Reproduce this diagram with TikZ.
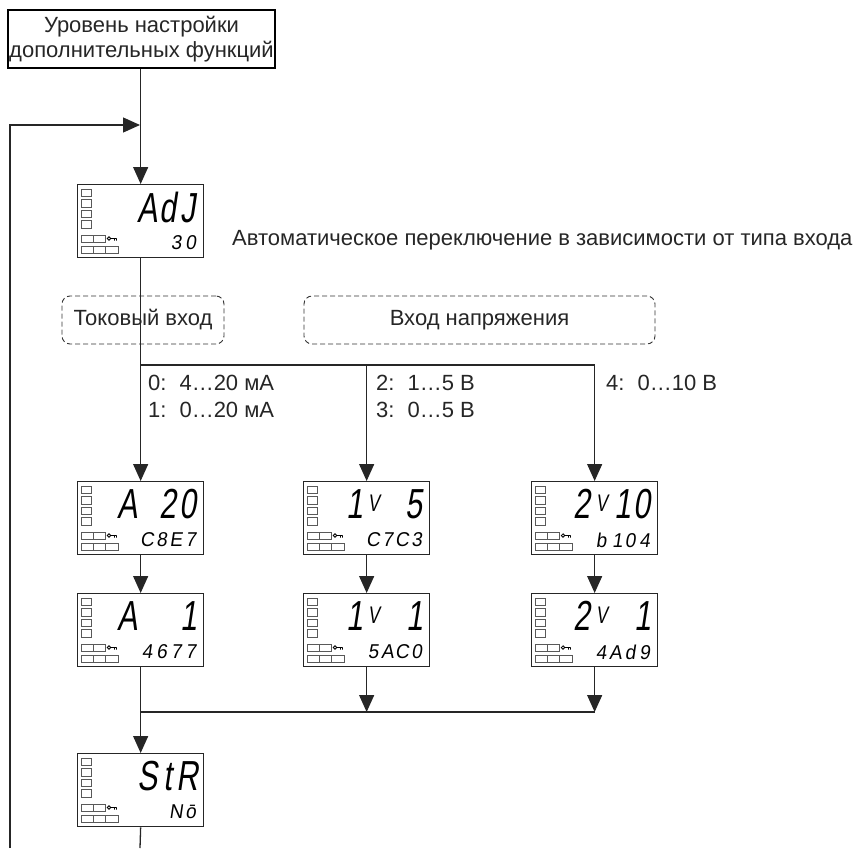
\documentclass[tikz,border=0pt]{standalone}
\usepackage{fontspec}
\setmainfont{Liberation Sans}
\newfontfamily\segfont{Liberation Sans}[FakeSlant=0.15,FakeStretch=0.72]
\newfontfamily\segsmall{Liberation Sans}[FakeSlant=0.15,FakeStretch=0.95]
\usetikzlibrary{arrows.meta}
\tikzset{
  x=1pt,y=-1pt,
  conn/.style={line width=1.3pt, draw=black!85},
  arr/.style={conn, -{Triangle[width=15pt,length=17pt]}},
  lcdframe/.style={draw=black!85, line width=1.3pt, minimum width=126pt, minimum height=73pt, inner sep=0pt, anchor=north west, fill=white},
  cellbox/.style={draw=black!65, line width=0.7pt},
  dashbox/.style={draw=black!80, dash pattern=on 5pt off 3pt, rounded corners=8pt, line width=0.9pt, minimum height=48pt, inner sep=0pt, font=\fontsize{22}{25}\selectfont, text=black!85},
  lbl/.style={font=\fontsize{22}{27}\selectfont, text=black!85, inner sep=0pt, align=left},
  titlebox/.style={draw=black, line width=1.8pt, minimum width=267pt, minimum height=58pt, inner sep=0pt, align=center, font=\fontsize{22}{25}\selectfont, text=black!85},
}
\newcommand\BC[4]{{\fontsize{42}{42}\segfont\makebox[20pt][c]{#1}\makebox[20pt][c]{#2}\makebox[20pt][c]{#3}\makebox[20pt][c]{#4}}}
\newcommand\SC[4]{{\fontsize{20}{20}\segsmall\makebox[14.5pt][c]{#1}\makebox[14.5pt][c]{#2}\makebox[14.5pt][c]{#3}\makebox[14.5pt][c]{#4}}}
\newcommand\one{\hfill 1}
\newcommand\vv{\hspace*{4pt}\raisebox{7pt}{\fontsize{24}{24}\segfont V}\hfill}
\newcommand\lcdpanel[5]{%
  \node[lcdframe] (#1) at (#2,#3) {};
  \begin{scope}[shift={(#2,#3)}]
    \foreach \k in {0,1,2,3} \draw[cellbox] (4,{5+10.5*\k}) rectangle ++(10,7.5);
    \draw[cellbox] (4,51) rectangle ++(12,7.5) (16,51) rectangle ++(12,7.5);
    \draw[cellbox] (4,62) rectangle ++(12,7.5) (16,62) rectangle ++(12,7.5) (28,62) rectangle ++(13,7.5);
    \draw[line width=0.8pt] (32,54.5) circle[radius=1.7pt] (33.7,54.5) -- (39.5,54.5) (37.5,54.5)--(37.5,56.5) (39.5,54.5)--(39.5,56.5);
    \node[anchor=east, inner sep=0pt] (#1-t) at (121,23) {#4};
    \node[anchor=east, inner sep=0pt] (#1-b) at (121,59) {#5};
  \end{scope}}
\begin{document}
\begin{tikzpicture}
\useasboundingbox (0,0) rectangle (861,848);
\node[titlebox] (top) at (141.5,39) {Уровень настройки\\дополнительных функций};
\lcdpanel{adj}{77}{184}{\BC{}{A}{d}{J}}{\SC{}{}{3}{0}}
\lcdpanel{a20}{77}{481}{\BC{A}{}{2}{0}}{\SC{C}{8}{E}{7}}
\lcdpanel{a1}{77}{593}{\BC{A}{}{}{\one}}{\SC{4}{6}{7}{7}}
\lcdpanel{v5}{303}{481}{\BC{\one}{\vv}{}{5}}{\SC{C}{7}{C}{3}}
\lcdpanel{v1}{303}{593}{\BC{\one}{\vv}{}{\one}}{\SC{5}{A}{C}{0}}
\lcdpanel{r10}{531}{481}{\BC{2}{\vv}{\one}{0}}{\SC{b}{\one}{0}{4}}
\lcdpanel{r1}{531}{593}{\BC{2}{\vv}{}{\one}}{\SC{4}{A}{d}{9}}
\lcdpanel{str}{77}{753}{\BC{}{S}{t}{R}}{\SC{}{}{N}{ō}}
\node[lbl, anchor=west] (auto) at (232,240) {Автоматическое переключение в зависимости от типа входа};
\node[dashbox, minimum width=162pt] (cur) at (143,320) {Токовый вход};
\node[dashbox, minimum width=351pt] (volt) at (479.5,320) {Вход напряжения};
\node[lbl, anchor=west] (l01) at (148,396) {0:\hspace{13pt}4…20 мА\\1:\hspace{13pt}0…20 мА};
\node[lbl, anchor=west] (l23) at (376,396) {2:\hspace{13pt}1…5 В\\3:\hspace{13pt}0…5 В};
\node[lbl, anchor=west] (l4) at (606,383) {4:\hspace{13pt}0…10 В};
\coordinate (fb0) at (10,848);
\coordinate (fbj) at (140,125);
\coordinate (br) at (140,365);
\coordinate (mg) at (140,712);
\coordinate (sb) at (140,848);
\draw[arr] (top.south -| adj.north) -- (adj.north);
\draw[arr] (fb0) |- (fbj);
\draw[arr] (adj.south) -- (a20.north);
\draw[conn] (br) -- (br -| r10.north);
\draw[arr] (br) -| (v5.north);
\draw[arr] (br) -| (r10.north);
\draw[arr] (a20.south) -- (a1.north);
\draw[arr] (v5.south) -- (v1.north);
\draw[arr] (r10.south) -- (r1.north);
\draw[arr] (v1.south) -- (v1.south |- mg);
\draw[arr] (r1.south) -- (r1.south |- mg);
\draw[conn] (mg) -- (mg -| r1.south);
\draw[arr] (a1.south) -- (str.north);
\draw[conn] (str.south) -- (sb);
\end{tikzpicture}
\end{document}
